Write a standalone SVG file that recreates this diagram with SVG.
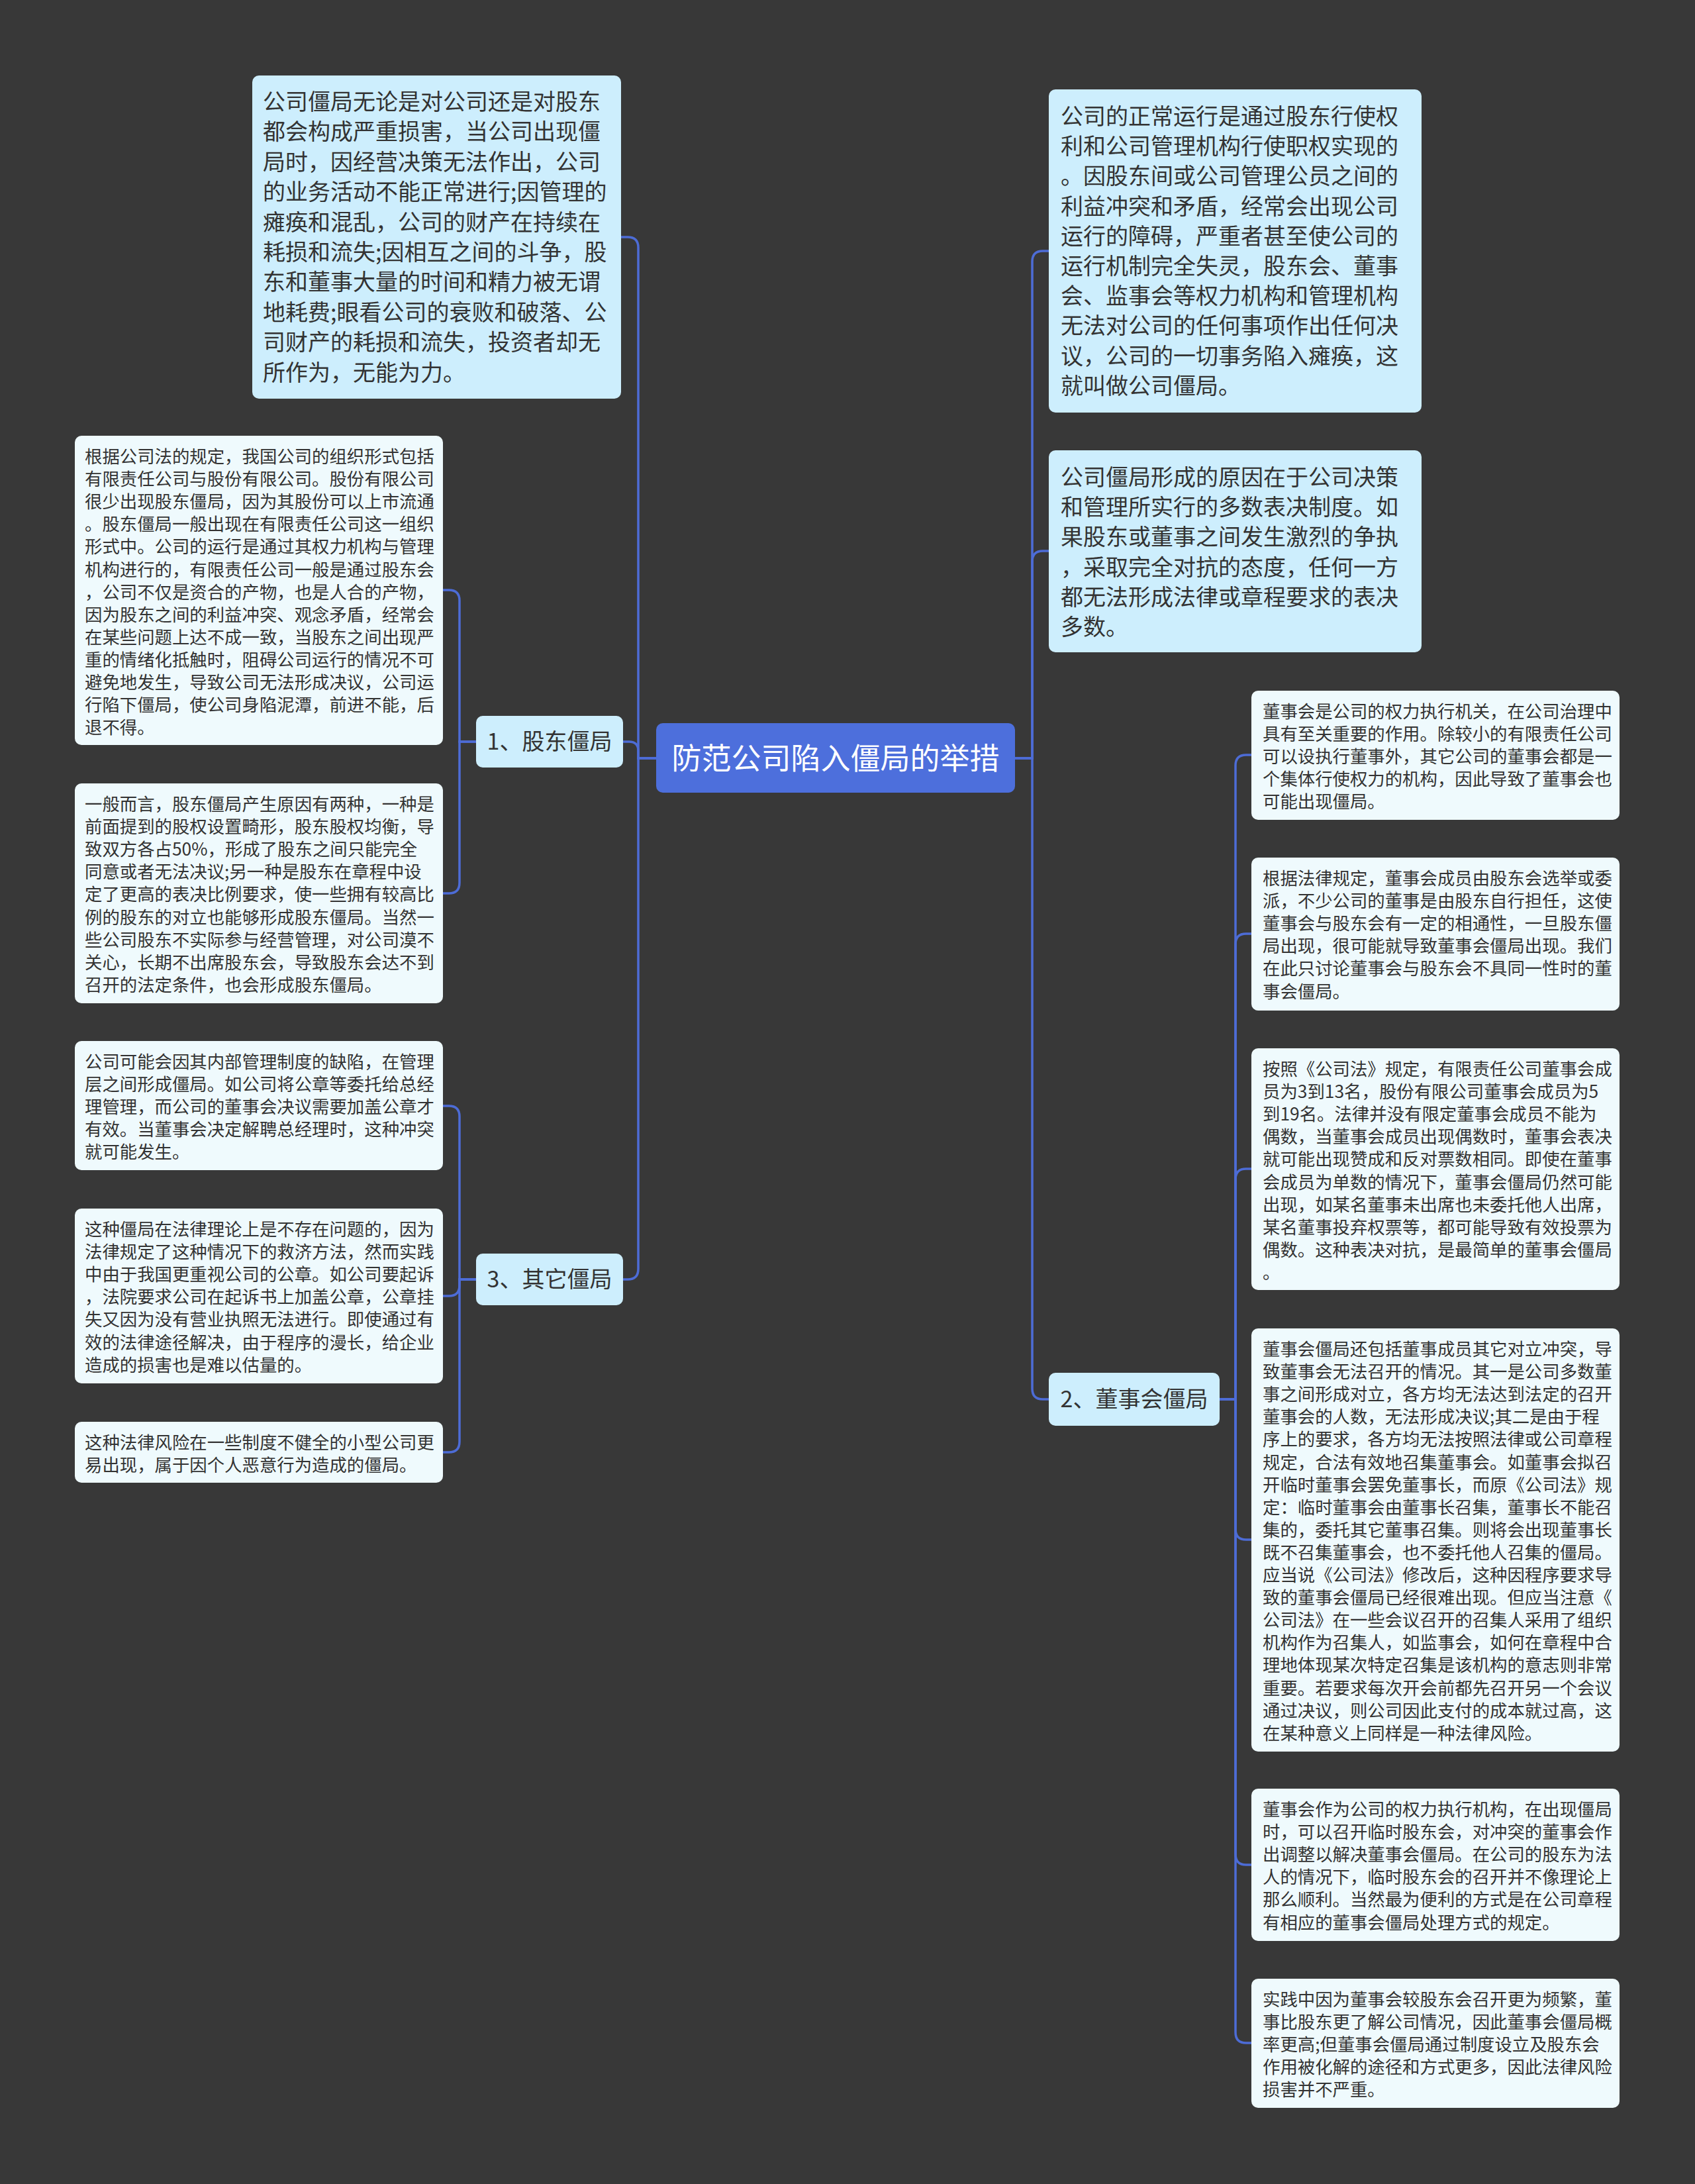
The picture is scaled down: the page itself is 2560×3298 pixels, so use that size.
<svg xmlns="http://www.w3.org/2000/svg" width="2560" height="3298" viewBox="0 0 2560 3298">
<style>
.bg{fill:#383838}
.root{fill:#4d6fdc}
.l1{fill:#cdeefd}
.leaf{fill:#effafd}
.conn{fill:none;stroke:#4d6cd6;stroke-width:3.5}
text{font-family:"Noto Sans CJK SC","Liberation Sans",sans-serif;fill:#333333}
.rt{font-size:45px;fill:#ffffff;text-anchor:middle}
.bt{font-size:34px;text-anchor:middle}
.t1{font-size:34px}
.t2{font-size:26.4px}
</style>
<rect class="bg" x="0" y="0" width="2560" height="3298"/>
<g id="connectors">
<path class="conn" d="M991 1145 H964 V374 Q964 358 948 358 H938"/>
<path class="conn" d="M991 1145 H964 V1134 Q964 1120 950 1120 H941"/>
<path class="conn" d="M991 1145 H964 V1916 Q964 1932 948 1932 H941"/>
<path class="conn" d="M1533 1145 H1559 V395 Q1559 379 1575 379 H1584"/>
<path class="conn" d="M1533 1145 H1559 V848 Q1559 832 1575 832 H1584"/>
<path class="conn" d="M1533 1145 H1559 V2097 Q1559 2113 1575 2113 H1584"/>
<path class="conn" d="M719 1120 H694 V907 Q694 891 678 891 H669"/>
<path class="conn" d="M719 1120 H694 V1333 Q694 1349 678 1349 H669"/>
<path class="conn" d="M719 1932 H694 V1686 Q694 1670 678 1670 H669"/>
<path class="conn" d="M719 1932 H694 V1941 Q694 1957 678 1957 H669"/>
<path class="conn" d="M719 1932 H694 V2177 Q694 2193 678 2193 H669"/>
<path class="conn" d="M1842 2113 H1866 V1156 Q1866 1140 1882 1140 H1890"/>
<path class="conn" d="M1842 2113 H1866 V1426 Q1866 1410 1882 1410 H1890"/>
<path class="conn" d="M1842 2113 H1866 V1781 Q1866 1765 1882 1765 H1890"/>
<path class="conn" d="M1842 2113 H1866 V2309 Q1866 2325 1882 2325 H1890"/>
<path class="conn" d="M1842 2113 H1866 V2800 Q1866 2816 1882 2816 H1890"/>
<path class="conn" d="M1842 2113 H1866 V3069 Q1866 3085 1882 3085 H1890"/>
</g>
<g id="root">
<rect class="root" x="991" y="1092" width="542" height="105" rx="10"/>
<text class="rt" x="1262" y="1162">防范公司陷入僵局的举措</text>
</g>
<g id="n-top-left">
<rect class="l1" x="381" y="114" width="557" height="488" rx="10"/>
<text class="t1" x="397" y="166"><tspan x="397">公司僵局无论是对公司还是对股东</tspan><tspan x="397" dy="45.4">都会构成严重损害，当公司出现僵</tspan><tspan x="397" dy="45.4">局时，因经营决策无法作出，公司</tspan><tspan x="397" dy="45.4">的业务活动不能正常进行;因管理的</tspan><tspan x="397" dy="45.4">瘫痪和混乱，公司的财产在持续在</tspan><tspan x="397" dy="45.4">耗损和流失;因相互之间的斗争，股</tspan><tspan x="397" dy="45.4">东和董事大量的时间和精力被无谓</tspan><tspan x="397" dy="45.4">地耗费;眼看公司的衰败和破落、公</tspan><tspan x="397" dy="45.4">司财产的耗损和流失，投资者却无</tspan><tspan x="397" dy="45.4">所作为，无能为力。</tspan></text>
</g>
<g id="n-branch1">
<rect class="l1" x="719" y="1081" width="222" height="78" rx="10"/>
<text class="bt" x="830" y="1132">1、股东僵局</text>
</g>
<g id="n-branch3">
<rect class="l1" x="719" y="1893" width="222" height="78" rx="10"/>
<text class="bt" x="830" y="1944">3、其它僵局</text>
</g>
<g id="n-branch2">
<rect class="l1" x="1584" y="2073" width="258" height="80" rx="10"/>
<text class="bt" x="1713" y="2125">2、董事会僵局</text>
</g>
<g id="n-right-1">
<rect class="l1" x="1584" y="135" width="563" height="488" rx="10"/>
<text class="t1" x="1602" y="188"><tspan x="1602">公司的正常运行是通过股东行使权</tspan><tspan x="1602" dy="45.2">利和公司管理机构行使职权实现的</tspan><tspan x="1602" dy="45.2">。因股东间或公司管理公员之间的</tspan><tspan x="1602" dy="45.2">利益冲突和矛盾，经常会出现公司</tspan><tspan x="1602" dy="45.2">运行的障碍，严重者甚至使公司的</tspan><tspan x="1602" dy="45.2">运行机制完全失灵，股东会、董事</tspan><tspan x="1602" dy="45.2">会、监事会等权力机构和管理机构</tspan><tspan x="1602" dy="45.2">无法对公司的任何事项作出任何决</tspan><tspan x="1602" dy="45.2">议，公司的一切事务陷入瘫痪，这</tspan><tspan x="1602" dy="45.2">就叫做公司僵局。</tspan></text>
</g>
<g id="n-right-2">
<rect class="l1" x="1584" y="680" width="563" height="305" rx="10"/>
<text class="t1" x="1602" y="733"><tspan x="1602">公司僵局形成的原因在于公司决策</tspan><tspan x="1602" dy="45.2">和管理所实行的多数表决制度。如</tspan><tspan x="1602" dy="45.2">果股东或董事之间发生激烈的争执</tspan><tspan x="1602" dy="45.2">，采取完全对抗的态度，任何一方</tspan><tspan x="1602" dy="45.2">都无法形成法律或章程要求的表决</tspan><tspan x="1602" dy="45.2">多数。</tspan></text>
</g>
<g id="n-l1">
<rect class="leaf" x="113" y="658" width="556" height="467" rx="10"/>
<text class="t2" x="128" y="699"><tspan x="128">根据公司法的规定，我国公司的组织形式包括</tspan><tspan x="128" dy="34.1">有限责任公司与股份有限公司。股份有限公司</tspan><tspan x="128" dy="34.1">很少出现股东僵局，因为其股份可以上市流通</tspan><tspan x="128" dy="34.1">。股东僵局一般出现在有限责任公司这一组织</tspan><tspan x="128" dy="34.1">形式中。公司的运行是通过其权力机构与管理</tspan><tspan x="128" dy="34.1">机构进行的，有限责任公司一般是通过股东会</tspan><tspan x="128" dy="34.1">，公司不仅是资合的产物，也是人合的产物，</tspan><tspan x="128" dy="34.1">因为股东之间的利益冲突、观念矛盾，经常会</tspan><tspan x="128" dy="34.1">在某些问题上达不成一致，当股东之间出现严</tspan><tspan x="128" dy="34.1">重的情绪化抵触时，阻碍公司运行的情况不可</tspan><tspan x="128" dy="34.1">避免地发生，导致公司无法形成决议，公司运</tspan><tspan x="128" dy="34.1">行陷下僵局，使公司身陷泥潭，前进不能，后</tspan><tspan x="128" dy="34.1">退不得。</tspan></text>
</g>
<g id="n-l2">
<rect class="leaf" x="113" y="1183" width="556" height="332" rx="10"/>
<text class="t2" x="128" y="1224"><tspan x="128">一般而言，股东僵局产生原因有两种，一种是</tspan><tspan x="128" dy="34.1">前面提到的股权设置畸形，股东股权均衡，导</tspan><tspan x="128" dy="34.1">致双方各占50%，形成了股东之间只能完全</tspan><tspan x="128" dy="34.1">同意或者无法决议;另一种是股东在章程中设</tspan><tspan x="128" dy="34.1">定了更高的表决比例要求，使一些拥有较高比</tspan><tspan x="128" dy="34.1">例的股东的对立也能够形成股东僵局。当然一</tspan><tspan x="128" dy="34.1">些公司股东不实际参与经营管理，对公司漠不</tspan><tspan x="128" dy="34.1">关心，长期不出席股东会，导致股东会达不到</tspan><tspan x="128" dy="34.1">召开的法定条件，也会形成股东僵局。</tspan></text>
</g>
<g id="n-l3">
<rect class="leaf" x="113" y="1572" width="556" height="195" rx="10"/>
<text class="t2" x="128" y="1613"><tspan x="128">公司可能会因其内部管理制度的缺陷，在管理</tspan><tspan x="128" dy="34.1">层之间形成僵局。如公司将公章等委托给总经</tspan><tspan x="128" dy="34.1">理管理，而公司的董事会决议需要加盖公章才</tspan><tspan x="128" dy="34.1">有效。当董事会决定解聘总经理时，这种冲突</tspan><tspan x="128" dy="34.1">就可能发生。</tspan></text>
</g>
<g id="n-l4">
<rect class="leaf" x="113" y="1825" width="556" height="264" rx="10"/>
<text class="t2" x="128" y="1866"><tspan x="128">这种僵局在法律理论上是不存在问题的，因为</tspan><tspan x="128" dy="34.1">法律规定了这种情况下的救济方法，然而实践</tspan><tspan x="128" dy="34.1">中由于我国更重视公司的公章。如公司要起诉</tspan><tspan x="128" dy="34.1">，法院要求公司在起诉书上加盖公章，公章挂</tspan><tspan x="128" dy="34.1">失又因为没有营业执照无法进行。即使通过有</tspan><tspan x="128" dy="34.1">效的法律途径解决，由于程序的漫长，给企业</tspan><tspan x="128" dy="34.1">造成的损害也是难以估量的。</tspan></text>
</g>
<g id="n-l5">
<rect class="leaf" x="113" y="2147" width="556" height="92" rx="10"/>
<text class="t2" x="128" y="2188"><tspan x="128">这种法律风险在一些制度不健全的小型公司更</tspan><tspan x="128" dy="34.1">易出现，属于因个人恶意行为造成的僵局。</tspan></text>
</g>
<g id="n-ra">
<rect class="leaf" x="1890" y="1043" width="556" height="195" rx="10"/>
<text class="t2" x="1907" y="1084"><tspan x="1907">董事会是公司的权力执行机关，在公司治理中</tspan><tspan x="1907" dy="34.1">具有至关重要的作用。除较小的有限责任公司</tspan><tspan x="1907" dy="34.1">可以设执行董事外，其它公司的董事会都是一</tspan><tspan x="1907" dy="34.1">个集体行使权力的机构，因此导致了董事会也</tspan><tspan x="1907" dy="34.1">可能出现僵局。</tspan></text>
</g>
<g id="n-rb">
<rect class="leaf" x="1890" y="1295" width="556" height="231" rx="10"/>
<text class="t2" x="1907" y="1336"><tspan x="1907">根据法律规定，董事会成员由股东会选举或委</tspan><tspan x="1907" dy="34.1">派，不少公司的董事是由股东自行担任，这使</tspan><tspan x="1907" dy="34.1">董事会与股东会有一定的相通性，一旦股东僵</tspan><tspan x="1907" dy="34.1">局出现，很可能就导致董事会僵局出现。我们</tspan><tspan x="1907" dy="34.1">在此只讨论董事会与股东会不具同一性时的董</tspan><tspan x="1907" dy="34.1">事会僵局。</tspan></text>
</g>
<g id="n-rc">
<rect class="leaf" x="1890" y="1583" width="556" height="365" rx="10"/>
<text class="t2" x="1907" y="1624"><tspan x="1907">按照《公司法》规定，有限责任公司董事会成</tspan><tspan x="1907" dy="34.1">员为3到13名，股份有限公司董事会成员为5</tspan><tspan x="1907" dy="34.1">到19名。法律并没有限定董事会成员不能为</tspan><tspan x="1907" dy="34.1">偶数，当董事会成员出现偶数时，董事会表决</tspan><tspan x="1907" dy="34.1">就可能出现赞成和反对票数相同。即使在董事</tspan><tspan x="1907" dy="34.1">会成员为单数的情况下，董事会僵局仍然可能</tspan><tspan x="1907" dy="34.1">出现，如某名董事未出席也未委托他人出席，</tspan><tspan x="1907" dy="34.1">某名董事投弃权票等，都可能导致有效投票为</tspan><tspan x="1907" dy="34.1">偶数。这种表决对抗，是最简单的董事会僵局</tspan><tspan x="1907" dy="34.1">。</tspan></text>
</g>
<g id="n-rd">
<rect class="leaf" x="1890" y="2006" width="556" height="639" rx="10"/>
<text class="t2" x="1907" y="2047"><tspan x="1907">董事会僵局还包括董事成员其它对立冲突，导</tspan><tspan x="1907" dy="34.1">致董事会无法召开的情况。其一是公司多数董</tspan><tspan x="1907" dy="34.1">事之间形成对立，各方均无法达到法定的召开</tspan><tspan x="1907" dy="34.1">董事会的人数，无法形成决议;其二是由于程</tspan><tspan x="1907" dy="34.1">序上的要求，各方均无法按照法律或公司章程</tspan><tspan x="1907" dy="34.1">规定，合法有效地召集董事会。如董事会拟召</tspan><tspan x="1907" dy="34.1">开临时董事会罢免董事长，而原《公司法》规</tspan><tspan x="1907" dy="34.1">定：临时董事会由董事长召集，董事长不能召</tspan><tspan x="1907" dy="34.1">集的，委托其它董事召集。则将会出现董事长</tspan><tspan x="1907" dy="34.1">既不召集董事会，也不委托他人召集的僵局。</tspan><tspan x="1907" dy="34.1">应当说《公司法》修改后，这种因程序要求导</tspan><tspan x="1907" dy="34.1">致的董事会僵局已经很难出现。但应当注意《</tspan><tspan x="1907" dy="34.1">公司法》在一些会议召开的召集人采用了组织</tspan><tspan x="1907" dy="34.1">机构作为召集人，如监事会，如何在章程中合</tspan><tspan x="1907" dy="34.1">理地体现某次特定召集是该机构的意志则非常</tspan><tspan x="1907" dy="34.1">重要。若要求每次开会前都先召开另一个会议</tspan><tspan x="1907" dy="34.1">通过决议，则公司因此支付的成本就过高，这</tspan><tspan x="1907" dy="34.1">在某种意义上同样是一种法律风险。</tspan></text>
</g>
<g id="n-re">
<rect class="leaf" x="1890" y="2701" width="556" height="230" rx="10"/>
<text class="t2" x="1907" y="2742"><tspan x="1907">董事会作为公司的权力执行机构，在出现僵局</tspan><tspan x="1907" dy="34.1">时，可以召开临时股东会，对冲突的董事会作</tspan><tspan x="1907" dy="34.1">出调整以解决董事会僵局。在公司的股东为法</tspan><tspan x="1907" dy="34.1">人的情况下，临时股东会的召开并不像理论上</tspan><tspan x="1907" dy="34.1">那么顺利。当然最为便利的方式是在公司章程</tspan><tspan x="1907" dy="34.1">有相应的董事会僵局处理方式的规定。</tspan></text>
</g>
<g id="n-rf">
<rect class="leaf" x="1890" y="2988" width="556" height="195" rx="10"/>
<text class="t2" x="1907" y="3029"><tspan x="1907">实践中因为董事会较股东会召开更为频繁，董</tspan><tspan x="1907" dy="34.1">事比股东更了解公司情况，因此董事会僵局概</tspan><tspan x="1907" dy="34.1">率更高;但董事会僵局通过制度设立及股东会</tspan><tspan x="1907" dy="34.1">作用被化解的途径和方式更多，因此法律风险</tspan><tspan x="1907" dy="34.1">损害并不严重。</tspan></text>
</g>
</svg>
